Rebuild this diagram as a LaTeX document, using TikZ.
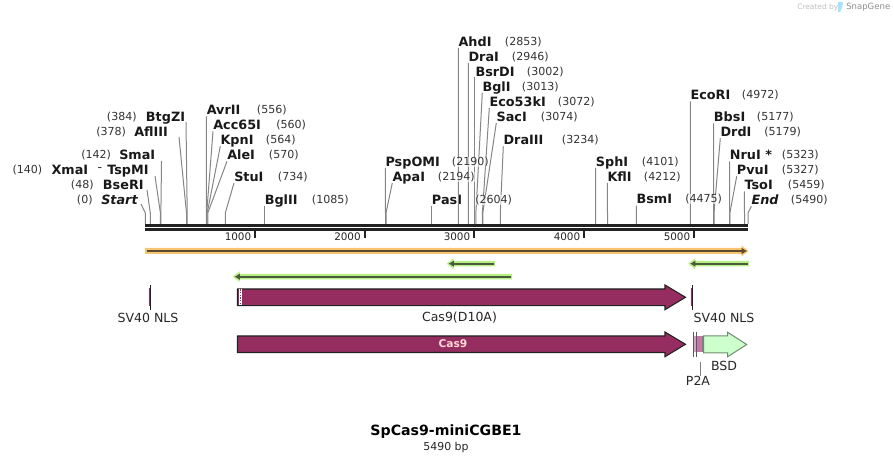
\documentclass[tikz,border=0pt]{standalone}
\usepackage{fontspec}
\setmainfont{DejaVu Sans}
\usetikzlibrary{arrows.meta}
\definecolor{rulec}{HTML}{222222}
\definecolor{cutc}{HTML}{858585}
\definecolor{cdsc}{HTML}{962D60}
\definecolor{p2ac}{HTML}{C27BA6}
\definecolor{bsdc}{HTML}{CCFFCC}
\definecolor{orfo}{HTML}{F8C471}
\definecolor{orfg}{HTML}{B6F084}
\definecolor{orfd}{HTML}{5A4A2E}
\definecolor{orgd}{HTML}{4A5A3A}
\begin{document}
\begin{tikzpicture}[x=.75pt,y=-.75pt,
enz/.style={anchor=west,inner sep=0pt,minimum height=9pt,text height=7pt,text depth=0pt,font=\fontsize{9.6}{10}\selectfont\bfseries,text=black!90},
num/.style={anchor=west,inner sep=0pt,font=\fontsize{8.3}{9}\selectfont,text=black!80,fill=white,fill opacity=.6,text opacity=1},
cut/.style={draw=cutc,line width=.75pt},
lab/.style={inner sep=0pt,font=\fontsize{9.4}{10}\selectfont,text=black!85},
tickn/.style={anchor=east,inner sep=0pt,font=\fontsize{7.8}{9}\selectfont,text=black!85},
ruler/.style={rulec,line width=2.2pt},
tick/.style={rulec,line width=1.5pt},
cds/.style={draw=rulec,fill=cdsc,line width=.8pt},
a/.style={line width=1.5pt,-{Latex[length=4pt,width=5pt]}}]
\useasboundingbox (0,0) rectangle (894,463);
% enzyme sites
\node[enz](start) at (101,200){\itshape Start};\coordinate(startt) at (141,204);\coordinate(starts) at (145.3,213);
\node[enz](bseri) at (102.7,185){BseRI};\coordinate(bserit) at (147,190);\coordinate(bseris) at (150.3,213);
\node[enz](xmai) at (51.3,170){XmaI};\node[enz](tspmi) at (107,170){TspMI};\node[lab](dash) at (100,170){-};\coordinate(tspmit) at (155,176);\coordinate(tspmis) at (160.4,213);
\node[enz](smai) at (119,155){SmaI};\coordinate(smait) at (161.5,161);\coordinate(smais) at (160.9,213);
\node[enz](afliii) at (134,132){AflIII};\coordinate(afliiit) at (179,137);\coordinate(afliiis) at (186.5,213);
\node[enz](btgzi) at (145.7,117){BtgZI};\coordinate(btgzit) at (186,122);\coordinate(btgzis) at (187.2,213);
\node[enz](avrii) at (206.5,110){AvrII};\coordinate(avriis) at (206.3,213);
\node[enz](acc) at (213,125){Acc65I};\coordinate(accs) at (206.7,213);
\node[enz](kpni) at (220.3,140){KpnI};\coordinate(kpnis) at (207.2,213);
\node[enz](alei) at (227,155){AleI};\coordinate(aleis) at (207.8,213);
\node[enz](stui) at (234,176.7){StuI};\coordinate(stuis) at (225.3,213);
\node[enz](bglii) at (264.5,199.7){BglII};\coordinate(bgliis) at (264.5,213);
\node[enz](pspomi) at (385.3,161.7){PspOMI};\coordinate(pspomis) at (385.5,213);
\node[enz](apai) at (392.3,176.7){ApaI};\coordinate(apais) at (386,213);
\node[enz](pasi) at (431.7,200){PasI};\coordinate(pasis) at (431.7,213);
\node[enz](ahdi) at (458.3,41.7){AhdI};\coordinate(ahdis) at (458.4,213);
\node[enz](drai) at (468.3,56.7){DraI};\coordinate(drais) at (468.4,213);
\node[enz](bsrdi) at (475.3,71.7){BsrDI};\coordinate(bsrdit) at (474.7,77.3);\coordinate(bsrdis) at (474.7,213);
\node[enz](bgli) at (482.3,86.7){BglI};\coordinate(bglis) at (475.9,213);
\node[enz](eco) at (489.3,101.7){Eco53kI};\coordinate(ecos) at (482.4,213);
\node[enz](saci) at (496.3,116.7){SacI};\coordinate(sacis) at (482.8,213);
\node[enz](draiii) at (503.3,140){DraIII};\coordinate(draiiis) at (500.3,213);
\node[enz](sphi) at (595.7,161.7){SphI};\coordinate(sphis) at (595.5,213);
\node[enz](kfli) at (607.3,176.7){KflI};\coordinate(kflis) at (607.5,213);
\node[enz](bsmi) at (636.3,199.3){BsmI};\coordinate(bsmis) at (636.4,213);
\node[enz](ecori) at (690.3,95){EcoRI};\coordinate(ecoris) at (690.4,213);
\node[enz](bbsi) at (713.7,117){BbsI};\coordinate(bbsis) at (713.6,213);
\node[enz](drdi) at (720.3,132){DrdI};\coordinate(drdis) at (714,213);
\node[enz](nrui) at (729.7,155){NruI *};\coordinate(nruis) at (729.5,213);
\node[enz](pvui) at (736.7,170){PvuI};\coordinate(pvuis) at (729.9,213);
\node[enz](tsoi) at (744.3,185){TsoI};\coordinate(tsois) at (744.5,213);
\node[enz](end) at (751.3,200){\itshape End};\coordinate(ends) at (748,213);
\draw[cut](startt)--(starts)--++(0,11);\draw[cut](bserit)--(bseris)--++(0,11);\draw[cut](tspmit)--(tspmis)--++(0,11);
\draw[cut](smait)--(smais)--++(0,11);\draw[cut](afliiit)--(afliiis)--++(0,11);\draw[cut](btgzit)--(btgzis)--++(0,11);
\draw[cut](avrii.south west)--(avriis)--++(0,11);\draw[cut](acc.south west)--(accs)--++(0,11);\draw[cut](kpni.south west)--(kpnis)--++(0,11);
\draw[cut](alei.south west)--(aleis)--++(0,11);\draw[cut](stui.south west)--(stuis)--++(0,11);\draw[cut](bglii.south west)--(bgliis)--++(0,11);
\draw[cut](pspomi.south west)--(pspomis)--++(0,11);\draw[cut](apai.south west)--(apais)--++(0,11);\draw[cut](pasi.south west)--(pasis)--++(0,11);
\draw[cut](ahdi.south west)--(ahdis)--++(0,11);\draw[cut](drai.south west)--(drais)--++(0,11);\draw[cut](bsrdit)--(bsrdis)--++(0,11);
\draw[cut](bgli.south west)--(bglis)--++(0,11);\draw[cut](eco.south west)--(ecos)--++(0,11);\draw[cut](saci.south west)--(sacis)--++(0,11);
\draw[cut](draiii.south west)--(draiiis)--++(0,11);\draw[cut](sphi.south west)--(sphis)--++(0,11);\draw[cut](kfli.south west)--(kflis)--++(0,11);
\draw[cut](bsmi.south west)--(bsmis)--++(0,11);\draw[cut](ecori.south west)--(ecoris)--++(0,11);\draw[cut](bbsi.south west)--(bbsis)--++(0,11);
\draw[cut](drdi.south west)--(drdis)--++(0,11);\draw[cut](nrui.south west)--(nruis)--++(0,11);\draw[cut](pvui.south west)--(pvuis)--++(0,11);
\draw[cut](tsoi.south west)--(tsois)--++(0,11);\draw[cut](end.south west)--(ends)--++(0,11);
% positions
\node[num](p0) at (76.7,200){(0)};\node[num](p48) at (70.7,185){(48)};\node[num](p140) at (12.3,170){(140)};\node[num](p142) at (81,155){(142)};
\node[num](p378) at (96,132){(378)};\node[num](p384) at (106.7,117){(384)};\node[num](p556) at (256.7,110){(556)};\node[num](p560) at (276,125){(560)};
\node[num](p564) at (265.7,140){(564)};\node[num](p570) at (268.7,155){(570)};\node[num](p734) at (277.7,176.7){(734)};\node[num](p1085) at (311.7,199.7){(1085)};
\node[num](p2190) at (451.7,161.7){(2190)};\node[num](p2194) at (437.7,176.7){(2194)};\node[num](p2604) at (475,200){(2604)};\node[num](p2853) at (504.7,41.7){(2853)};
\node[num](p2946) at (511.7,56.7){(2946)};\node[num](p3002) at (526.7,71.7){(3002)};\node[num](p3013) at (521.7,86.7){(3013)};\node[num](p3072) at (557.7,101.7){(3072)};
\node[num](p3074) at (540.7,116.7){(3074)};\node[num](p3234) at (561.7,140){(3234)};\node[num](p4101) at (641.7,161.7){(4101)};\node[num](p4212) at (643.7,176.7){(4212)};
\node[num](p4475) at (685,199.3){(4475)};\node[num](p4972) at (741.7,95){(4972)};\node[num](p5177) at (756.7,117){(5177)};\node[num](p5179) at (764,132){(5179)};
\node[num](p5323) at (781.7,155){(5323)};\node[num](p5327) at (781.7,170){(5327)};\node[num](p5459) at (787.7,185){(5459)};\node[num](p5490) at (790.7,200){(5490)};
% ruler
\draw[ruler](145,225.6)--(748,225.6);\draw[ruler](145,229.6)--(748,229.6);
\draw[tick](255,231)--(255,238);\draw[tick](364.7,231)--(364.7,238);\draw[tick](474,231)--(474,238);\draw[tick](583.7,231)--(583.7,238);\draw[tick](694,231)--(694,238);
\node[tickn](t1000) at (251.5,237){1000};\node[tickn](t2000) at (361,237){2000};\node[tickn](t3000) at (470.5,237){3000};
\node[tickn](t4000) at (580.5,237){4000};\node[tickn](t5000) at (690.5,237){5000};
% orfs
\fill[orfo](145,248)--(741.5,248)--(741.5,245.5)--(748.5,251)--(741.5,256.5)--(741.5,254)--(145,254)--cycle;
\draw[a,draw=orfd,fill=orfd](146.5,251)--(747,251);
\fill[orfg](749,261)--(695,261)--(695,258.5)--(688.3,263.7)--(695,269)--(695,266.5)--(749,266.5)--cycle;
\draw[a,draw=orgd,fill=orgd](747.5,263.7)--(690,263.7);
\fill[orfg](495,261)--(453.5,261)--(453.5,258.5)--(446.7,263.7)--(453.5,269)--(453.5,266.5)--(495,266.5)--cycle;
\draw[a,draw=orgd,fill=orgd](493.5,263.7)--(448.5,263.7);
\fill[orfg](512,274)--(239.5,274)--(239.5,271.5)--(232.7,276.7)--(239.5,282)--(239.5,279.5)--(512,279.5)--cycle;
\draw[a,draw=orgd,fill=orgd](510.5,276.7)--(234.5,276.7);
% features
\draw[rulec,line width=.75pt](150.3,285)--(150.3,310);\draw[cdsc,line width=.75pt](149.4,288)--(149.4,306);
\draw[cds](237.5,289)--(665,289)--(665,285)--(685.5,297.3)--(665,309.7)--(665,305.7)--(237.5,305.7)--cycle;
\fill[white](239.3,289.5) rectangle (242,305.2);
\draw[cdsc,line width=.75pt,dash pattern=on 1pt off 1pt](240.6,289.5)--(240.6,305.2);
\draw[rulec,line width=.75pt](692,285)--(692,310);\draw[cdsc,line width=.75pt](691,288)--(691,306);
\draw[cds](237.5,336)--(665,336)--(665,332)--(685.5,344.3)--(665,356.7)--(665,352.5)--(237.5,352.5)--cycle;
\fill[p2ac!70](693.7,336) rectangle (696.5,352.5);
\fill[p2ac](697,336) rectangle (702,352.5);
\draw[black!65,line width=.5pt](693.7,332)--(693.7,357);\draw[black!65,line width=.5pt](696.8,332)--(696.8,357);\draw[black!50,line width=.4pt](702,336)--(702,352.5);
\draw[draw=black!45!bsdc,fill=bsdc,line width=.75pt](703.5,336)--(727.7,336)--(727.7,332.3)--(746.7,344.5)--(727.7,356.7)--(727.7,353)--(703.5,353)--cycle;
\node[lab](nlsl) at (148,318){SV40 NLS};\node[lab](d10a) at (459.5,318){Cas9(D10A)};\node[lab](nlsr) at (724,318){SV40 NLS};
\node[lab,font=\fontsize{8}{10}\selectfont\bfseries,text=pink!60](cas) at (453,344){Cas9};
\node[lab](bsd) at (724,366){BSD};\node[lab](p2a) at (698,381){P2A};
\coordinate(p2at) at (700.3,362);\draw[draw=black!50,line width=.6pt](p2at)--(p2a.north -| p2at);
% title
\node[lab,font=\fontsize{10.6}{12}\selectfont\bfseries,text=black](title) at (446,432){SpCas9-miniCGBE1};
\node[lab,font=\fontsize{8.2}{10}\selectfont](size) at (446,447){5490 bp};
\node[lab,font=\fontsize{5.6}{7}\selectfont,text=black!25,anchor=west](made) at (797,7){Created by};
\node[lab,font=\fontsize{6.4}{7}\selectfont,text=black!45,anchor=west](snap) at (846,7){SnapGene};
\fill[cyan!35](838,2)--(843,2)--(842,8)--(840,12)--(838,12)--cycle;
\end{tikzpicture}
\end{document}
